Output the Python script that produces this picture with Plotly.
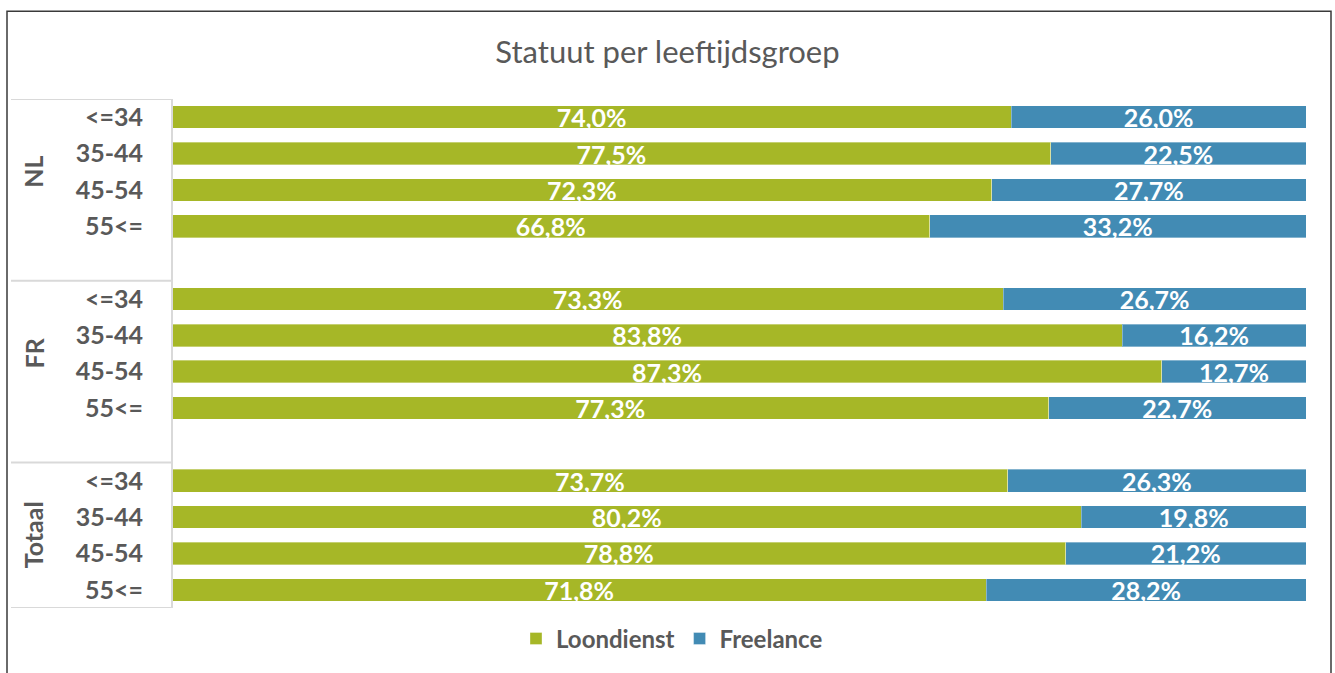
import plotly.graph_objects as go

groups = ["NL", "FR", "Totaal"]
ages = ["<=34", "35-44", "45-54", "55<="]
loondienst = [74.0, 77.5, 72.3, 66.8, 73.3, 83.8, 87.3, 77.3, 73.7, 80.2, 78.8, 71.8]
freelance = [26.0, 22.5, 27.7, 33.2, 26.7, 16.2, 12.7, 22.7, 26.3, 19.8, 21.2, 28.2]

GREEN = "#A6B727"
BLUE = "#428BB4"
GREY = "#595959"
FONT = "Lato"

# positions: 4 rows per group plus one empty slot between groups
ypos, ylabels = [], []
for gi, g in enumerate(groups):
    for ai, a in enumerate(ages):
        ypos.append(gi * 5 + ai)
        ylabels.append(a)

def fmt(v):
    return f"{v:.1f}%".replace(".", ",")

fig = go.Figure()
for name, vals, col in [("Loondienst", loondienst, GREEN), ("Freelance", freelance, BLUE)]:
    fig.add_trace(go.Bar(
        y=ypos, x=vals, name=name, orientation="h", width=0.62,
        marker=dict(color=col, line=dict(color="rgba(255,255,255,0.35)", width=1)),
        text=[fmt(v) for v in vals], textposition="inside", insidetextanchor="middle",
        textfont=dict(family=FONT, size=25, color="white", weight="bold"),
        hoverinfo="skip",
    ))

nslots = len(groups) * 5 - 1
plot_l, plot_r, plot_t, plot_b = 172, 1306, 99, 610
W, H = 1335, 673
pw, ph = plot_r - plot_l, plot_b - plot_t

def px_to_xpaper(px):
    return (px - plot_l) / pw

def px_to_ypaper(py):
    return (plot_b - py) / ph

shapes = []
# frame
shapes.append(dict(type="rect", xref="paper", yref="paper",
                   x0=px_to_xpaper(7), x1=px_to_xpaper(1331),
                   y0=px_to_ypaper(700), y1=px_to_ypaper(11),
                   line=dict(color="#3a3a3a", width=1.5), fillcolor="rgba(0,0,0,0)", layer="below"))
# group separators in category axis area
bounds = [-0.5] + [gi * 5 + 4.5 for gi in range(len(groups) - 1)] + [nslots - 0.5]
for b in bounds:
    shapes.append(dict(type="line", xref="paper", yref="y",
                       x0=px_to_xpaper(11), x1=0, y0=b, y1=b,
                       line=dict(color="#D9D9D9", width=2)))
shapes.append(dict(type="line", xref="paper", yref="y", x0=0, x1=0,
                   y0=-0.5, y1=nslots - 0.5, line=dict(color="#D9D9D9", width=2)))

annotations = []
for gi, g in enumerate(groups):
    annotations.append(dict(text=g, xref="paper", yref="y",
                            x=px_to_xpaper(33), y=gi * 5 + 1.5, textangle=-90,
                            showarrow=False, xanchor="center", yanchor="middle",
                            font=dict(family=FONT, size=25, color=GREY, weight="bold")))

fig.update_layout(
    width=W, height=H, barmode="stack",
    margin=dict(l=plot_l, r=W - plot_r, t=plot_t, b=H - plot_b),
    paper_bgcolor="white", plot_bgcolor="white",
    title=dict(text="Statuut per leeftijdsgroep", x=0.5, xanchor="center",
               y=1 - 52 / H, yanchor="middle",
               font=dict(family=FONT, size=31, color=GREY)),
    xaxis=dict(range=[0, 100], visible=False, fixedrange=True),
    yaxis=dict(range=[nslots - 0.5, -0.5], tickvals=ypos, ticktext=ylabels,
               showgrid=False, zeroline=False, showline=False, ticks="",
               ticklabelstandoff=28,
               tickfont=dict(family=FONT, size=25, color=GREY, weight="bold")),
    legend=dict(orientation="h", x=px_to_xpaper(672), xanchor="center",
                y=px_to_ypaper(641), yanchor="middle",
                font=dict(family=FONT, size=24, color=GREY, weight="bold"),
                itemwidth=30, traceorder="normal"),
    uniformtext=dict(minsize=25, mode="show"),
    shapes=shapes, annotations=annotations,
)

fig.write_html("out.html", config={"displayModeBar": False},
               post_script="document.body.style.margin='0';")
